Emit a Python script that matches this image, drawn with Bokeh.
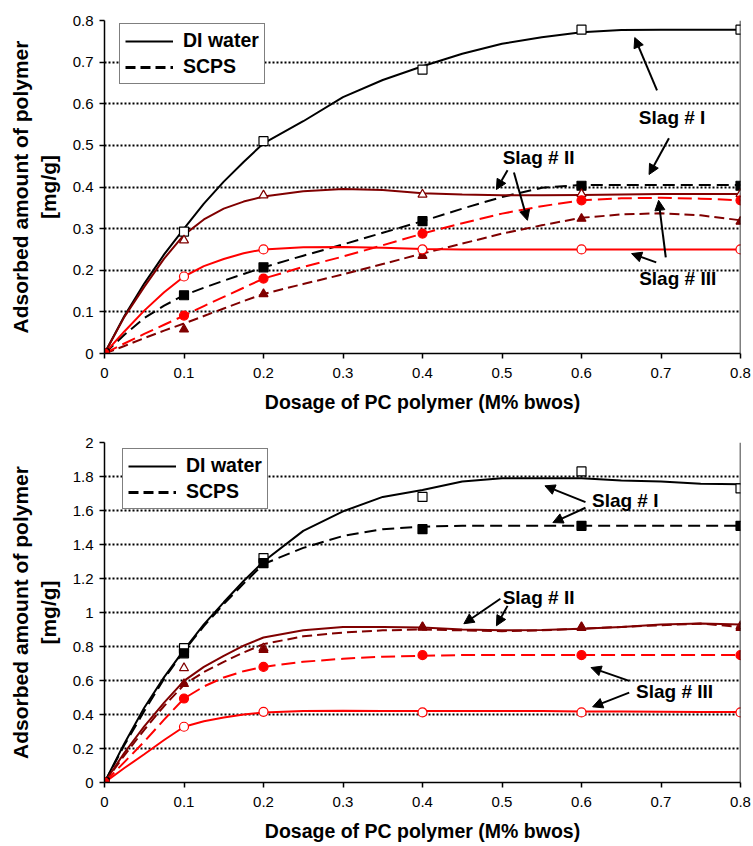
from bokeh.plotting import figure
from bokeh.layouts import column
from bokeh.models import (Range1d, FixedTicker, NumeralTickFormatter, Legend, LegendItem,
                          Span, Label, Arrow, NormalHead)
from bokeh.embed import file_html
from bokeh.resources import INLINE

FONT = "Liberation Sans"

# ---------------- data ----------------
x_pts = [0, 0.1, 0.2, 0.4, 0.6, 0.8]
curve_x = [0, 0.025, 0.05, 0.075, 0.1, 0.125, 0.15, 0.175, 0.2, 0.25, 0.3, 0.35, 0.4,
           0.45, 0.5, 0.55, 0.6, 0.65, 0.7, 0.75, 0.8]

# Top chart: measured points
top_s1_di = [0, 0.293, 0.51, 0.682, 0.778, 0.778]
top_s1_scps = [0, 0.14, 0.207, 0.318, 0.403, 0.403]
top_s2_di = [0, 0.272, 0.38, 0.382, 0.383, 0.383]
top_s2_scps = [0, 0.058, 0.143, 0.235, 0.324, 0.317]
top_s3_di = [0, 0.185, 0.25, 0.25, 0.25, 0.25]
top_s3_scps = [0, 0.091, 0.18, 0.288, 0.368, 0.368]

# Top chart: trend curves (read at curve_x)
top_c1_di = [0, 0.09, 0.168, 0.238, 0.30, 0.36, 0.413, 0.46, 0.505, 0.558, 0.616, 0.657, 0.69,
             0.72, 0.744, 0.76, 0.772, 0.777, 0.778, 0.778, 0.778]
top_c1_scps = [0, 0.045, 0.085, 0.115, 0.14, 0.158, 0.175, 0.191, 0.207, 0.235, 0.262, 0.29, 0.318,
               0.348, 0.376, 0.398, 0.405, 0.405, 0.405, 0.405, 0.405]
top_c2_di = [0, 0.088, 0.16, 0.228, 0.285, 0.322, 0.348, 0.365, 0.377, 0.39, 0.395, 0.393, 0.385,
             0.382, 0.38, 0.38, 0.381, 0.382, 0.383, 0.383, 0.383]
top_c2_scps = [0, 0.018, 0.037, 0.055, 0.072, 0.09, 0.108, 0.126, 0.143, 0.167, 0.19, 0.215, 0.24,
               0.264, 0.288, 0.308, 0.326, 0.334, 0.337, 0.332, 0.32]
top_c3_di = [0, 0.053, 0.103, 0.147, 0.185, 0.21, 0.227, 0.241, 0.25, 0.255, 0.256, 0.254, 0.251,
             0.25, 0.25, 0.25, 0.25, 0.25, 0.25, 0.25, 0.25]
top_c3_scps = [0, 0.024, 0.047, 0.069, 0.091, 0.114, 0.136, 0.158, 0.18, 0.208, 0.233, 0.26, 0.288,
               0.313, 0.336, 0.354, 0.368, 0.373, 0.374, 0.372, 0.368]

# Bottom chart: measured points
bot_s1_di = [0, 0.79, 1.32, 1.68, 1.83, 1.73]
bot_s1_scps = [0, 0.76, 1.29, 1.49, 1.51, 1.51]
bot_s2_di = [0, 0.673, 0.79, 0.915, 0.915, 0.92]
bot_s2_scps = [0, 0.58, 0.78, 0.912, 0.91, 0.91]
bot_s3_di = [0, 0.328, 0.416, 0.412, 0.412, 0.412]
bot_s3_scps = [0, 0.494, 0.68, 0.749, 0.749, 0.749]

# Bottom chart: trend curves (read at curve_x)
bot_c1_di = [0, 0.23, 0.44, 0.62, 0.78, 0.93, 1.06, 1.185, 1.30, 1.48, 1.595, 1.68, 1.72,
             1.77, 1.79, 1.79, 1.79, 1.777, 1.77, 1.758, 1.755]
bot_c1_scps = [0, 0.22, 0.42, 0.61, 0.775, 0.92, 1.05, 1.17, 1.285, 1.38, 1.45, 1.49, 1.505,
               1.51, 1.51, 1.51, 1.51, 1.51, 1.51, 1.51, 1.51]
bot_c2_di = [0, 0.175, 0.33, 0.47, 0.598, 0.68, 0.745, 0.805, 0.853, 0.896, 0.915, 0.915, 0.912,
             0.90, 0.895, 0.897, 0.905, 0.915, 0.93, 0.935, 0.93]
bot_c2_scps = [0, 0.16, 0.31, 0.45, 0.575, 0.65, 0.71, 0.765, 0.814, 0.86, 0.882, 0.895, 0.90,
               0.895, 0.89, 0.895, 0.905, 0.915, 0.925, 0.935, 0.915]
bot_c3_di = [0, 0.085, 0.166, 0.25, 0.328, 0.36, 0.382, 0.40, 0.412, 0.42, 0.422, 0.421, 0.42,
             0.42, 0.42, 0.42, 0.418, 0.417, 0.416, 0.415, 0.415]
bot_c3_scps = [0, 0.12, 0.24, 0.37, 0.494, 0.565, 0.618, 0.655, 0.68, 0.71, 0.728, 0.74, 0.745,
               0.75, 0.75, 0.75, 0.75, 0.75, 0.75, 0.75, 0.75]

x_ticks = [0, 0.1, 0.2, 0.3, 0.4, 0.5, 0.6, 0.7, 0.8]
top_y_ticks = [0, 0.1, 0.2, 0.3, 0.4, 0.5, 0.6, 0.7, 0.8]
bot_y_ticks = [0, 0.2, 0.4, 0.6, 0.8, 1.0, 1.2, 1.4, 1.6, 1.8, 2.0]

x_title = "Dosage of PC polymer (M% bwos)"
y_title = "Adsorbed amount of polymer\n[mg/g]"
legend_labels = ["DI water", "SCPS"]
slag_labels = ["Slag # I", "Slag # II", "Slag # III"]

# annotation placement (data coordinates): label (x, y); arrows (x0, y0, x1, y1)
top_label_pos = [(0.714, 0.568), (0.546, 0.471), (0.721, 0.180)]
top_arrows = [(0.695, 0.632, 0.667, 0.759), (0.710, 0.517, 0.685, 0.430),
              (0.507, 0.440, 0.493, 0.394), (0.515, 0.435, 0.532, 0.320),
              (0.706, 0.231, 0.697, 0.368), (0.694, 0.219, 0.663, 0.240)]
bot_label_pos = [(0.655, 1.657), (0.546, 1.088), (0.717, 0.535)]
bot_arrows = [(0.605, 1.649, 0.554, 1.745), (0.605, 1.616, 0.564, 1.529),
              (0.498, 1.081, 0.452, 0.934), (0.507, 1.039, 0.493, 0.922),
              (0.660, 0.598, 0.612, 0.676), (0.660, 0.529, 0.614, 0.445)]

BLACK = "#000000"
MAROON = "#800000"
RED = "#FF0000"


def make_chart(ymax, yticks, pts, curves, label_pos, arrows, height, b_top, b_bottom, leg_loc):
    p = figure(width=753, height=height, x_range=Range1d(0, 0.8), y_range=Range1d(0, ymax),
               output_backend="svg", toolbar_location=None,
               min_border_left=104, min_border_right=13, min_border_top=b_top,
               min_border_bottom=b_bottom)
    p.outline_line_color = None
    p.background_fill_color = "white"
    p.border_fill_color = "white"
    p.xgrid.grid_line_color = None
    p.ygrid.grid_line_color = "black"
    p.ygrid.grid_line_width = 2
    p.ygrid.grid_line_dash = "2 2"
    p.xaxis.ticker = FixedTicker(ticks=x_ticks)
    p.yaxis.ticker = FixedTicker(ticks=yticks)
    p.ygrid.ticker = FixedTicker(ticks=yticks)
    for ax in (p.xaxis[0], p.yaxis[0]):
        ax.formatter = NumeralTickFormatter(format="0.[0]")
        ax.axis_line_color = "black"
        ax.axis_line_width = 1.5
        ax.major_tick_line_color = "black"
        ax.major_tick_line_width = 1.5
        ax.major_tick_out = 5
        ax.major_tick_in = 0
        ax.minor_tick_line_color = None
        ax.major_label_text_font = FONT
        ax.major_label_text_font_size = "15px"
        ax.major_label_text_color = "black"
        ax.axis_label_text_font = FONT
        ax.axis_label_text_font_style = "bold"
        ax.axis_label_text_color = "black"
    p.xaxis.axis_label = x_title
    p.xaxis.axis_label_text_font_size = "19.5px"
    p.xaxis.major_label_standoff = 9
    p.xaxis.axis_label_standoff = 10
    p.yaxis.axis_label = y_title
    p.yaxis.axis_label_text_font_size = "21px"
    p.yaxis.major_label_standoff = 6
    p.yaxis.axis_label_standoff = 10
    p.add_layout(Span(location=0.8, dimension="height", line_color="black", line_width=1.5))

    styles = [
        (BLACK, "square", "white", "solid"),
        (BLACK, "square", BLACK, "12 6"),
        (MAROON, "triangle", "white", "solid"),
        (MAROON, "triangle", MAROON, "10 5"),
        (RED, "circle", "white", "solid"),
        (RED, "circle", RED, "14 6"),
    ]
    for (color, marker, fill, dash), cy in zip(styles, curves):
        p.line(curve_x, cy, line_color=color, line_width=2, line_dash=dash)
    for (color, marker, fill, dash), py in zip(styles, pts):
        p.scatter(x_pts, py, marker=marker, size=9, line_color=color, fill_color=fill,
                  line_width=1.2)

    # legend-only renderers, placed outside the visible range
    r_solid = p.line([-1, -0.9], [-1, -1], line_color="black", line_width=2)
    r_dash = p.line([-1, -0.9], [-1, -1], line_color="black", line_width=3, line_dash="10 5")
    legend = Legend(items=[LegendItem(label=legend_labels[0], renderers=[r_solid]),
                           LegendItem(label=legend_labels[1], renderers=[r_dash])],
                    location=leg_loc)
    legend.border_line_color = "black"
    legend.border_line_width = 1.5
    legend.background_fill_color = "white"
    legend.background_fill_alpha = 1
    legend.padding = 5
    legend.spacing = 3
    legend.margin = 0
    legend.glyph_width = 48
    legend.glyph_height = 18
    legend.label_height = 18
    legend.label_standoff = 10
    legend.label_text_font = FONT
    legend.label_text_font_size = "19.5px"
    legend.label_text_font_style = "bold"
    legend.label_text_color = "black"
    p.add_layout(legend)

    for (lx, ly), txt in zip(label_pos, slag_labels):
        p.add_layout(Label(x=lx, y=ly, text=txt, text_align="center", text_baseline="middle",
                           text_font=FONT, text_font_size="19px", text_font_style="bold",
                           text_color="black"))
    for (x0, y0, x1, y1) in arrows:
        p.add_layout(Arrow(x_start=x0, y_start=y0, x_end=x1, y_end=y1, line_width=2,
                           line_color="black",
                           end=NormalHead(size=10, fill_color="black", line_color="black")))
    return p


p1 = make_chart(0.8, top_y_ticks,
                [top_s1_di, top_s1_scps, top_s2_di, top_s2_scps, top_s3_di, top_s3_scps],
                [top_c1_di, top_c1_scps, top_c2_di, top_c2_scps, top_c3_di, top_c3_scps],
                top_label_pos, top_arrows, 420, 20, 67, (15, 269))
p2 = make_chart(2.0, bot_y_ticks,
                [bot_s1_di, bot_s1_scps, bot_s2_di, bot_s2_scps, bot_s3_di, bot_s3_scps],
                [bot_c1_di, bot_c1_scps, bot_c2_di, bot_c2_scps, bot_c3_di, bot_c3_scps],
                bot_label_pos, bot_arrows, 426, 22, 64, (18, 273))

layout = column(p1, p2, spacing=0)
open("out.html", "w").write(file_html(layout, INLINE))
